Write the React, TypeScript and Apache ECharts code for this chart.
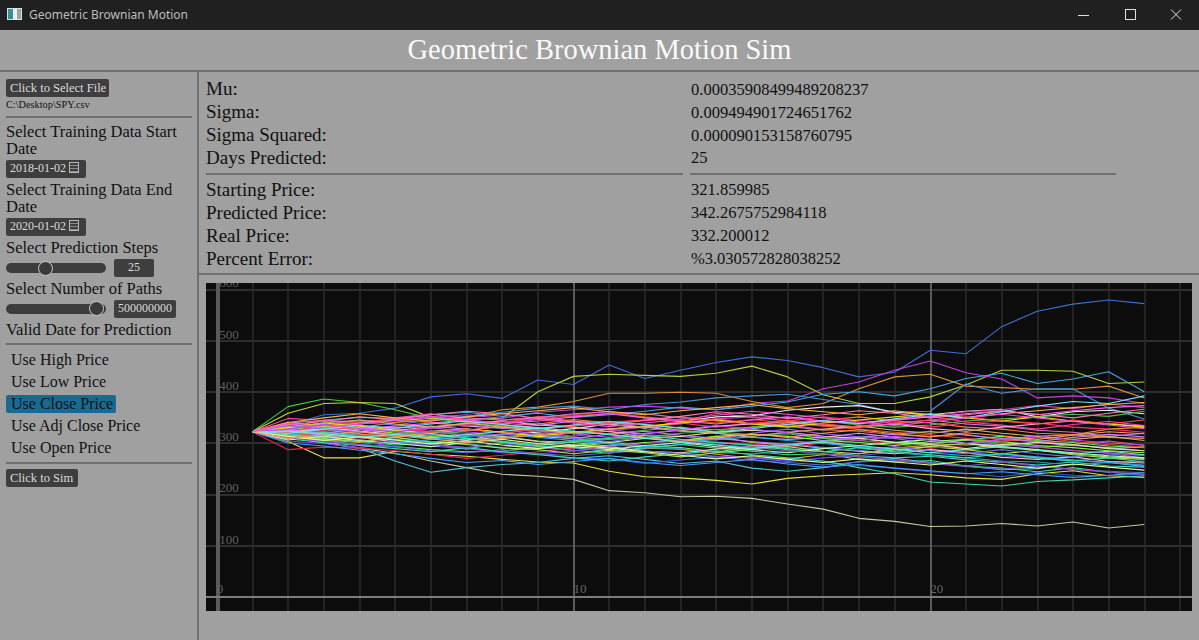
import { useEffect, useRef } from 'react';
import * as echarts from 'echarts';

// ---------- chart data ----------
const START_PRICE = 321.86;

// simulated paths, steps 2..26 (step 1 is START_PRICE)
const PATH_STEPS: number[][] = [
    [335, 355, 358, 368, 390, 396, 387, 423, 414, 452, 426, 442, 457, 468, 461, 447, 429, 438, 481, 474, 527, 557, 571, 579, 572],
    [315, 300, 290, 280, 265, 252, 239, 235, 229, 207, 203, 195, 196, 192, 181, 171, 153, 147, 137, 138, 143, 138, 146, 134, 141],
    [303, 271, 271, 284, 278, 274, 268, 263, 261, 245, 234, 232, 227, 220, 231, 236, 239, 242, 238, 232, 229, 240, 246, 236, 233],
    [371, 386, 379, 365, 348, 340, 333, 326, 321, 318, 325, 331, 322, 316, 318, 309, 305, 299, 297, 306, 300, 291, 297, 289, 293],
    [358, 377, 379, 377, 350, 342, 336, 329, 318, 323, 311, 304, 313, 301, 296, 302, 291, 284, 293, 287, 279, 286, 277, 271, 268],
    [325, 335, 340, 345, 348, 346, 348, 400, 430, 434, 432, 430, 436, 450, 429, 394, 377, 377, 390, 413, 442, 442, 440, 416, 419],
    [330, 335, 345, 340, 350, 355, 348, 360, 365, 370, 372, 368, 365, 377, 382, 406, 419, 442, 460, 437, 425, 388, 392, 388, 377],
    [325, 335, 330, 340, 345, 350, 365, 370, 381, 397, 397, 399, 397, 381, 369, 377, 406, 429, 434, 411, 408, 405, 405, 411, 388],
    [330, 345, 350, 348, 355, 360, 352, 358, 350, 355, 362, 370, 365, 372, 380, 395, 400, 392, 406, 426, 436, 416, 425, 439, 400],
    [320, 335, 340, 335, 345, 352, 360, 368, 372, 365, 375, 380, 388, 392, 395, 385, 375, 360, 362, 415, 397, 406, 406, 368, 347],
    [312, 300, 290, 265, 243, 252, 258, 262, 270, 275, 268, 260, 265, 251, 245, 252, 264, 270, 262, 255, 248, 250, 258, 262, 254],
    [287, 292, 290, 285, 278, 270, 276, 283, 290, 295, 300, 305, 302, 298, 292, 300, 305, 298, 290, 295, 300, 292, 286, 280, 275],
    [348, 344, 336, 349, 357, 346, 338, 351, 355, 362, 349, 341, 358, 350, 343, 336, 331, 344, 352, 341, 335, 327, 336, 342, 334],
    [318, 307, 303, 296, 299, 288, 301, 293, 286, 280, 289, 297, 290, 284, 277, 279, 268, 263, 266, 255, 251, 244, 252, 243, 238],
    [328, 317, 331, 322, 315, 324, 333, 339, 330, 327, 316, 313, 306, 319, 327, 318, 312, 309, 298, 306, 296, 293, 285, 281, 276],
    [322, 331, 323, 317, 310, 306, 317, 321, 328, 337, 329, 342, 351, 353, 364, 370, 373, 360, 355, 362, 366, 351, 361, 364, 357],
    [315, 306, 301, 312, 319, 310, 303, 297, 306, 299, 290, 288, 278, 270, 269, 277, 279, 290, 296, 298, 307, 313, 316, 327, 331],
    [325, 316, 313, 303, 297, 291, 283, 279, 270, 269, 260, 267, 272, 273, 266, 263, 256, 251, 244, 241, 234, 243, 237, 236, 239],
    [341, 331, 327, 318, 329, 336, 344, 351, 343, 341, 330, 339, 347, 338, 336, 326, 323, 316, 313, 317, 306, 303, 297, 304, 295],
    [311, 306, 296, 293, 287, 283, 284, 292, 295, 302, 294, 291, 283, 291, 297, 303, 309, 302, 299, 306, 313, 305, 301, 294, 291],
    [331, 321, 316, 319, 329, 336, 329, 323, 313, 324, 331, 337, 347, 351, 349, 341, 339, 346, 353, 361, 365, 373, 367, 376, 369],
    [320, 311, 319, 326, 317, 309, 303, 295, 291, 283, 291, 297, 301, 296, 287, 283, 275, 271, 274, 267, 263, 257, 263, 255, 253],
    [337, 329, 339, 344, 341, 333, 329, 334, 343, 335, 331, 323, 319, 311, 307, 311, 319, 311, 307, 299, 295, 301, 295, 291, 285],
    [317, 326, 317, 313, 321, 325, 333, 337, 346, 339, 336, 329, 326, 331, 339, 344, 351, 343, 339, 331, 327, 319, 316, 311, 309],
    [304, 299, 291, 301, 294, 289, 281, 279, 284, 291, 284, 281, 274, 271, 264, 271, 275, 283, 287, 283, 275, 271, 264, 263, 257],
    [327, 333, 329, 319, 313, 317, 313, 304, 301, 294, 301, 305, 313, 317, 313, 305, 301, 295, 303, 307, 303, 295, 291, 285, 281],
    [333, 325, 335, 327, 323, 315, 323, 327, 335, 341, 345, 339, 331, 339, 343, 351, 344, 339, 331, 339, 343, 339, 331, 327, 321],
    [315, 323, 315, 311, 303, 299, 291, 299, 303, 299, 291, 289, 281, 279, 283, 291, 285, 281, 275, 271, 265, 263, 257, 263, 265],
    [323, 327, 323, 315, 323, 327, 321, 313, 309, 301, 309, 313, 321, 325, 321, 313, 309, 301, 297, 289, 297, 301, 297, 289, 285],
    [339, 344, 341, 347, 356, 349, 345, 349, 357, 361, 357, 349, 345, 337, 333, 325, 333, 337, 345, 337, 333, 325, 321, 313, 319],
    [309, 319, 311, 319, 323, 319, 311, 319, 311, 307, 311, 319, 323, 331, 335, 343, 335, 331, 335, 343, 347, 351, 356, 352, 362],
    [324, 315, 311, 302, 299, 305, 312, 303, 296, 293, 284, 281, 288, 294, 297, 290, 284, 279, 287, 281, 272, 268, 273, 264, 261],
    [312, 304, 297, 293, 285, 281, 287, 279, 275, 281, 285, 279, 273, 266, 262, 257, 263, 266, 260, 254, 249, 255, 248, 245, 242],
    [330, 337, 329, 325, 331, 338, 343, 335, 331, 322, 318, 325, 333, 337, 341, 334, 331, 337, 328, 323, 331, 337, 343, 337, 333],
    [316, 309, 303, 311, 302, 297, 290, 287, 279, 286, 281, 273, 281, 287, 293, 284, 279, 287, 293, 299, 291, 286, 279, 273, 270],
    [328, 335, 341, 347, 339, 333, 341, 347, 353, 358, 351, 345, 339, 346, 339, 333, 327, 321, 316, 309, 303, 311, 303, 297, 292],
    [318, 311, 305, 299, 307, 313, 317, 311, 305, 298, 293, 301, 307, 312, 305, 299, 293, 287, 281, 275, 279, 273, 267, 262, 256],
    [322, 315, 323, 329, 333, 327, 321, 315, 309, 317, 323, 315, 309, 303, 297, 305, 311, 317, 323, 315, 309, 303, 311, 317, 312],
    [330, 339, 333, 325, 319, 327, 321, 313, 321, 327, 333, 339, 345, 337, 331, 339, 345, 351, 357, 349, 343, 351, 343, 337, 331],
    [308, 301, 295, 289, 283, 291, 283, 277, 271, 265, 273, 279, 285, 277, 271, 265, 252, 240, 224, 220, 216, 225, 228, 232, 236],
    [326, 319, 327, 333, 339, 345, 337, 343, 351, 357, 349, 343, 337, 345, 351, 343, 337, 345, 351, 357, 363, 355, 363, 369, 373],
    [314, 321, 313, 307, 301, 309, 301, 295, 303, 309, 315, 307, 301, 295, 289, 283, 291, 283, 277, 271, 279, 271, 265, 271, 263],
    [332, 339, 345, 337, 331, 339, 331, 325, 319, 327, 333, 325, 319, 313, 321, 327, 333, 325, 319, 327, 319, 313, 307, 313, 305],
    [320, 313, 307, 315, 321, 327, 319, 327, 333, 339, 345, 351, 343, 337, 345, 337, 331, 339, 345, 351, 343, 337, 345, 337, 345],
    [334, 327, 321, 315, 323, 315, 309, 317, 309, 303, 311, 303, 297, 291, 299, 291, 285, 293, 285, 279, 287, 279, 273, 279, 271],
    [306, 313, 305, 299, 293, 301, 307, 299, 293, 287, 295, 301, 293, 287, 281, 289, 295, 301, 307, 299, 293, 287, 281, 275, 271],
    [340, 349, 357, 349, 343, 351, 357, 363, 369, 361, 355, 363, 369, 375, 367, 361, 355, 363, 355, 349, 357, 363, 369, 375, 379],
    [310, 303, 297, 305, 297, 291, 299, 291, 285, 293, 299, 305, 297, 291, 285, 279, 273, 267, 261, 255, 263, 255, 249, 243, 239],
    [300, 294, 286, 279, 270, 262, 266, 258, 264, 270, 262, 256, 262, 268, 259, 253, 258, 251, 246, 240, 244, 238, 233, 237, 242],
    [336, 342, 351, 346, 355, 362, 357, 348, 341, 336, 344, 352, 361, 356, 348, 355, 363, 358, 349, 355, 362, 356, 349, 358, 366],
    [319, 327, 334, 329, 337, 343, 336, 328, 335, 342, 336, 329, 321, 328, 336, 344, 338, 347, 356, 349, 361, 372, 381, 377, 392],
    [313, 305, 312, 306, 298, 304, 296, 289, 296, 290, 283, 276, 269, 275, 268, 262, 269, 263, 257, 265, 258, 251, 259, 253, 247],
    [327, 336, 328, 322, 330, 322, 315, 324, 318, 311, 319, 326, 334, 327, 320, 312, 305, 313, 306, 299, 307, 314, 306, 300, 296],
    [309, 316, 322, 314, 308, 301, 309, 316, 323, 317, 310, 303, 310, 318, 311, 319, 326, 318, 312, 320, 314, 307, 315, 322, 318],
    [323, 318, 311, 317, 310, 316, 323, 330, 323, 316, 309, 302, 296, 289, 296, 302, 295, 288, 281, 287, 293, 286, 279, 284, 277],
    [338, 330, 337, 344, 352, 345, 338, 346, 339, 332, 339, 346, 354, 362, 356, 349, 341, 334, 341, 349, 356, 349, 342, 335, 328],
];

const PATH_COLORS = [
    '#3f6fd6', '#c9c59c', '#e6e23c', '#3fcf3f', '#c2d63a', '#b4d434', '#c444e4', '#d8903e',
    '#3fa9e2', '#4f8fd4', '#4ec6e0', '#e0284a', '#ff3fa0', '#3fe07f', '#a05ff0', '#eeeeee',
    '#e0a02e', '#2f5fe0', '#f06262', '#62f062', '#d43fa6', '#3fd0d0', '#c2a2ff', '#ff8040',
    '#8442ff', '#84ff40', '#ff3070', '#2f9aa8', '#e4e2a0', '#d872d8', '#52b852', '#f2c0c8',
    '#5a6ad8', '#ffa2d2', '#a2e262', '#e05222', '#22b2f2', '#c282ff', '#f2e202', '#3fd8b0',
    '#ff62ff', '#32e2a2', '#d2b262', '#ff5252', '#7272f2', '#b2ffb2', '#ffb242', '#9252c2',
    '#46a0ff', '#ff7aa8', '#7be0ff', '#e8ff7a', '#b84fff', '#ff9a5a', '#5ef0d6', '#f04fd0',
];

const X_AXIS_LABELS = ['0', '10', '20'];
const Y_AXIS_LABELS = ['100', '200', '300', '400', '500', '600'];

// ---------- panel text ----------
const STATS_TOP = ['Mu:', 'Sigma:', 'Sigma Squared:', 'Days Predicted:'];
const STATS_TOP_VALUES = ['0.00035908499489208237', '0.009494901724651762', '0.000090153158760795', '25'];
const STATS_BOTTOM = ['Starting Price:', 'Predicted Price:', 'Real Price:', 'Percent Error:'];
const STATS_BOTTOM_VALUES = ['321.859985', '342.2675752984118', '332.200012', '%3.030572828038252'];
const PRICE_OPTIONS = ['Use High Price', 'Use Low Price', 'Use Close Price', 'Use Adj Close Price', 'Use Open Price'];
const SELECTED_PRICE = 'Use Close Price';

const SERIF = "'Liberation Serif', 'Times New Roman', serif";
const RULE = '#6f6f6f';

// the plotting canvas is larger than the visible box so grid lines run to every edge
const CANVAS_W = 1433;
const CANVAS_H = 410;
const X_MIN = -10, X_MAX = 30;
const Y_MIN = -100, Y_MAX = 700;

function PathsChart() {
    const chartRef = useRef<HTMLDivElement>(null);

    useEffect(() => {
        if (!chartRef.current) return;
        const chart = echarts.init(chartRef.current, null, { renderer: 'svg' });

        const pxPerX = CANVAS_W / (X_MAX - X_MIN);
        const pxPerY = CANVAS_H / (Y_MAX - Y_MIN);

        const option: echarts.EChartsOption = {
            animation: false,
            backgroundColor: '#0c0c0c',
            grid: { left: 0, right: 0, top: 0, bottom: 0, containLabel: false },
            xAxis: {
                type: 'value',
                min: X_MIN,
                max: X_MAX,
                interval: 10,
                offset: Y_MIN * pxPerY, // lift the axis up to y = 0
                axisLine: { onZero: false, lineStyle: { color: '#7c7c7c', width: 2 } },
                axisTick: { show: false },
                axisLabel: {
                    inside: true,
                    align: 'left',
                    verticalAlign: 'bottom',
                    margin: 2,
                    color: '#666666',
                    fontFamily: SERIF,
                    fontSize: 13,
                    formatter: (v: number) => (X_AXIS_LABELS.includes(String(v)) ? String(v) : '')
                },
                splitLine: { show: true, lineStyle: { color: '#5a5a5a', width: 2 } },
                minorTick: { show: false, splitNumber: 10 },
                minorSplitLine: { show: true, lineStyle: { color: '#2b2b2b', width: 1.5 } }
            },
            yAxis: {
                type: 'value',
                min: Y_MIN,
                max: Y_MAX,
                interval: 100,
                offset: X_MIN * pxPerX, // move the axis right to x = 0
                axisLine: { onZero: false, lineStyle: { color: '#5a5a5a', width: 2 } },
                axisTick: { show: false },
                axisLabel: {
                    inside: true,
                    align: 'left',
                    verticalAlign: 'bottom',
                    margin: 1,
                    color: '#606060',
                    fontFamily: SERIF,
                    fontSize: 13,
                    formatter: (v: number) => (Y_AXIS_LABELS.includes(String(v)) ? String(v) : '')
                },
                splitLine: { show: true, lineStyle: { color: '#2e2e2e', width: 2 } }
            },
            series: PATH_STEPS.map((steps, k) => ({
                type: 'line',
                name: `path ${k + 1}`,
                data: [START_PRICE, ...steps].map((v, i) => [i + 1, v]),
                symbol: 'none',
                silent: true,
                lineStyle: { width: 1.1, color: PATH_COLORS[k % PATH_COLORS.length] },
                itemStyle: { color: PATH_COLORS[k % PATH_COLORS.length] }
            }))
        };

        chart.setOption(option);
        return () => chart.dispose();
    }, []);

    return (
        <div style={{ position: 'absolute', left: 206, top: 283, width: 986, height: 328, overflow: 'hidden', background: '#0c0c0c' }}>
            <div ref={chartRef} style={{ position: 'absolute', left: -349, top: -45, width: CANVAS_W, height: CANVAS_H }} />
        </div>
    );
}

// text placed by the vertical centre of its capitals
function Txt({ x, y, size, color = '#111', family = SERIF, children }: any) {
    return (
        <div style={{
            position: 'absolute', left: x, top: y - size * 0.6, fontSize: size,
            lineHeight: `${size * 1.2}px`, color, fontFamily: family, whiteSpace: 'nowrap'
        }}>{children}</div>
    );
}

function Rule({ x, y, w, h = 2 }: any) {
    return <div style={{ position: 'absolute', left: x, top: y - h / 2, width: w, height: h, background: RULE }} />;
}

function Box({ x, y, w, h, children, size = 12.5, center = false }: any) {
    return (
        <div style={{
            position: 'absolute', left: x, top: y, width: w, height: h, background: '#3e3e3e', borderRadius: 2,
            color: '#dcdcdc', fontFamily: SERIF, fontSize: size, lineHeight: `${h}px`,
            textAlign: center ? 'center' : 'left', paddingLeft: center ? 0 : 4, boxSizing: 'border-box', whiteSpace: 'nowrap'
        }}>{children}</div>
    );
}

function CalendarIcon() {
    return (
        <span style={{
            display: 'inline-block', width: 10, height: 11, marginLeft: 3, verticalAlign: -1,
            border: '1px solid #b8b8b8', boxSizing: 'border-box',
            background: 'repeating-linear-gradient(0deg, #8a8a8a 0 1px, transparent 1px 3px)'
        }} />
    );
}

function Slider({ y, thumbX }: any) {
    return (
        <>
            <div style={{ position: 'absolute', left: 6, top: y - 5, width: 100, height: 10, borderRadius: 5, background: '#3c3c3c' }} />
            <div style={{
                position: 'absolute', left: thumbX - 7.5, top: y - 7.5, width: 15, height: 15, borderRadius: '50%',
                background: '#3a3a3a', border: '1px solid #cfcfcf', boxSizing: 'border-box'
            }} />
        </>
    );
}

export default function App() {
    return (
        <div style={{ position: 'fixed', left: 0, top: 0, width: 1199, height: 640, overflow: 'hidden', background: '#a0a0a0', fontFamily: SERIF }}>
            {/* window title bar */}
            <div style={{ position: 'absolute', left: 0, top: 0, width: 1199, height: 30, background: '#202020' }}>
                <div style={{
                    position: 'absolute', left: 7, top: 8, width: 15, height: 12, boxSizing: 'border-box', border: '1px solid #d8e4e4',
                    background: 'linear-gradient(90deg, #3b8d96 0 35%, #e8f0f0 35% 68%, #9aa4a4 68%)'
                }} />
                <Txt x={29} y={15.5} size={12} color="#bdbdbd" family="'Segoe UI', 'Noto Sans', 'Open Sans', sans-serif">Geometric Brownian Motion</Txt>
                <svg width={1199} height={30} style={{ position: 'absolute', left: 0, top: 0 }}>
                    <line x1={1078} y1={15.5} x2={1089} y2={15.5} stroke="#e0e0e0" strokeWidth={1} />
                    <rect x={1125.5} y={9.5} width={10} height={10} fill="none" stroke="#e0e0e0" strokeWidth={1} />
                    <line x1={1171} y1={9.5} x2={1181} y2={19.5} stroke="#e0e0e0" strokeWidth={1} />
                    <line x1={1181} y1={9.5} x2={1171} y2={19.5} stroke="#e0e0e0" strokeWidth={1} />
                </svg>
            </div>

            {/* heading */}
            <div style={{
                position: 'absolute', left: 0, top: 32, width: 1199, textAlign: 'center', fontFamily: SERIF,
                fontSize: 28.5, lineHeight: '36px', color: '#fafafa'
            }}>Geometric Brownian Motion Sim</div>

            <Rule x={0} y={71} w={1199} />
            <div style={{ position: 'absolute', left: 197, top: 71, width: 2, height: 569, background: RULE }} />

            {/* left control panel */}
            <Box x={6} y={79} w={103} h={18}>Click to Select File</Box>
            <Txt x={6} y={105.5} size={10.3}>C:\Desktop\SPY.csv</Txt>
            <Rule x={6} y={117} w={186} />
            <Txt x={6} y={132} size={16.5}>Select Training Data Start</Txt>
            <Txt x={6} y={149} size={16.5}>Date</Txt>
            <Box x={6} y={160} w={80} h={17.5} size={12}>2018-01-02<CalendarIcon /></Box>
            <Txt x={6} y={190} size={16.5}>Select Training Data End</Txt>
            <Txt x={6} y={207} size={16.5}>Date</Txt>
            <Box x={6} y={218} w={80} h={17.5} size={12}>2020-01-02<CalendarIcon /></Box>
            <Txt x={6} y={248} size={16.5}>Select Prediction Steps</Txt>
            <Slider y={268} thumbX={45} />
            <Box x={114} y={259} w={40} h={17.5} size={12} center>25</Box>
            <Txt x={6} y={289} size={16.5}>Select Number of Paths</Txt>
            <Slider y={308.5} thumbX={96.5} />
            <Box x={114} y={300} w={62} h={17.5} size={12} center>500000000</Box>
            <Txt x={6} y={330} size={16.5}>Valid Date for Prediction</Txt>
            <Rule x={6} y={344} w={186} />
            {PRICE_OPTIONS.map((label, i) => {
                const cy = 360 + i * 22;
                return label === SELECTED_PRICE ? (
                    <div key={label}>
                        <div style={{ position: 'absolute', left: 6, top: cy - 9.5, width: 110, height: 18.5, background: '#176b92', borderRadius: 2 }} />
                        <Txt x={11} y={cy} size={16}>{label}</Txt>
                    </div>
                ) : <Txt key={label} x={11} y={cy} size={16}>{label}</Txt>;
            })}
            <Rule x={6} y={463} w={186} />
            <Box x={6} y={469} w={72} h={18}>Click to Sim</Box>

            {/* statistics */}
            {STATS_TOP.map((label, i) => <Txt key={label} x={206} y={89 + i * 23} size={19}>{label}</Txt>)}
            {STATS_TOP_VALUES.map((v, i) => <Txt key={'tv' + i} x={691} y={90 + i * 22.7} size={16.5}>{v}</Txt>)}
            <Rule x={206} y={174} w={477} />
            <Rule x={690} y={174} w={426} />
            {STATS_BOTTOM.map((label, i) => <Txt key={label} x={206} y={190 + i * 23} size={19}>{label}</Txt>)}
            {STATS_BOTTOM_VALUES.map((v, i) => <Txt key={'bv' + i} x={691} y={190 + i * 23} size={16.5}>{v}</Txt>)}
            <Rule x={198} y={274} w={1001} />

            <PathsChart />
        </div>
    );
}
